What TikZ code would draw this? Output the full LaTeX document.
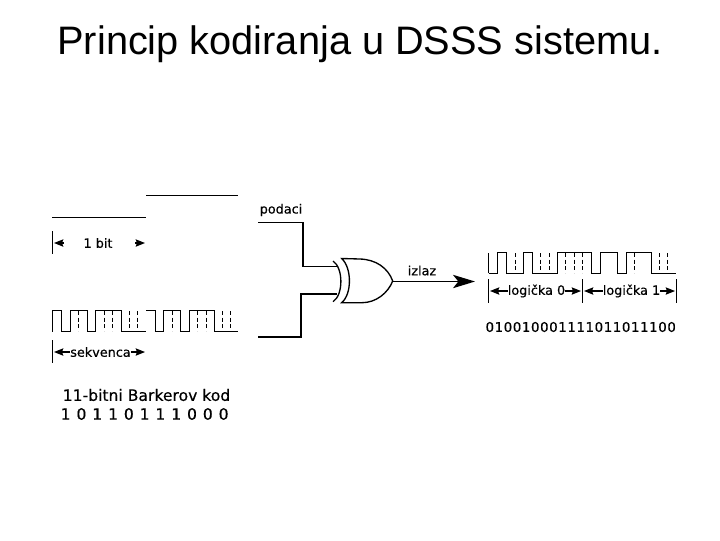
\documentclass[tikz,border=0pt]{standalone}
\usepackage{fontspec}
\setmainfont{Liberation Sans}
\newfontfamily\lbl[FakeBold=0.4]{DejaVu Sans}
\usetikzlibrary{arrows.meta}
\newcommand\dgA[1]{\makebox[11.85pt]{#1}}
\newcommand\dgB[1]{\makebox[6.82pt]{#1}}
\tikzset{
  wire/.style={line width=1pt,black},
  wave/.style={line width=0.75pt,black},
  chip/.style={line width=0.75pt,black,dash pattern=on 3pt off 2pt},
  tickmark/.style={line width=0.75pt,black},
  headarrow/.style={line width=0.9pt,black,-{Stealth[length=7pt,width=5.5pt,inset=1pt]}},
  bigarrow/.style={line width=1pt,black,-{Stealth[length=16.5pt,width=10pt,inset=4pt]}},
  lab/.style={font=\lbl\fontsize{9.6}{12}\selectfont,text=black,inner sep=0pt},
  biglab/.style={font=\lbl\fontsize{11.7}{14}\selectfont,text=black,inner sep=0pt},
}
\begin{document}
\begin{tikzpicture}[x=0.75pt,y=-0.75pt]
\useasboundingbox (0,0) rectangle (720,540);
\fill[white] (0,0) rectangle (720,540);
\node[font=\fontsize{29.8}{34}\selectfont,inner sep=0pt] (title) at (360,44) {Princip kodiranja u DSSS sistemu.};
% data signal
\draw[wave] (52,217) -- (146,217);
\draw[wave] (146,195) -- (238,195);
\coordinate (bt) at (52,231); \coordinate (bb) at (52,254);
\draw[tickmark] (bt) -- (bb);
\node[lab] (bit) at (98,243) {1 bit};
\coordinate (bla) at (64,243); \coordinate (blb) at (54,243);
\coordinate (bra) at (135,243); \coordinate (brb) at (145,243);
\draw[headarrow] (bla) -- (blb);
\draw[headarrow] (bra) -- (brb);
% Barker sequence
\draw[wave] (52,331.5) -- (52,310.5) -- (61.5,310.5) -- (61.5,331.5) -- (70,331.5) -- (70,310.5) -- (87,310.5) -- (87,331.5) -- (95.5,331.5) -- (95.5,310.5) -- (121,310.5) -- (121,331.5) -- (146,331.5);
\draw[wave] (146,310.5) -- (155,310.5) -- (155,331.5) -- (163.5,331.5) -- (163.5,310.5) -- (180.5,310.5) -- (180.5,331.5) -- (189,331.5) -- (189,310.5) -- (214.5,310.5) -- (214.5,331.5) -- (238,331.5);
\foreach \x in {78.5,104,112.5,129.5,137.5,172,197.5,206,222.5,230.5}
  \draw[chip] (\x,311) -- (\x,331);
\coordinate (st) at (52,340); \coordinate (sb) at (52,363);
\draw[tickmark] (st) -- (sb);
\node[lab] (sek) at (100.5,352) {sekvenca};
\draw[headarrow] (sek.west) -- (54,352);
\draw[headarrow] (sek.east) -- (145,352);
\node[biglab] (kodnaziv) at (146.5,395) {11-bitni Barkerov kod};
\node[biglab,anchor=west] (kod) at (57.5,414) {\dgA1\dgA0\dgA1\dgA1\dgA0\dgA1\dgA1\dgA1\dgA0\dgA0\dgA0};
% input wires and gate
\coordinate (gA) at (337,266.7);
\coordinate (gB) at (337,294);
\coordinate (inA) at (258,222.7);
\coordinate (inB) at (258,337);
\draw[wire] (inA) -- (303,222.7) -- (303,266.7) -- (gA);
\draw[wire] (inB) -- (301,337) -- (301,294) -- (gB);
\node[lab] (podaci) at (281,210) {podaci};
\draw[wire] (333,261) .. controls (343.5,268) and (343.5,295) .. (333,301.7);
\draw[wire] (341.7,258.5) .. controls (352,268) and (352,294) .. (341.7,302.7)
   -- (362,302.7) .. controls (376,302.7) and (388,293) .. (392.7,281)
   .. controls (388,268) and (376,259.5) .. (360,259) -- cycle;
\coordinate (out) at (392.7,281.5);
\coordinate (outend) at (475,281.5);
\draw[bigarrow] (out) -- (outend);
\node[lab] (izlaz) at (422,270.5) {izlaz};
% output signal
\draw[wave] (488.7,273) -- (488.7,252.5);
\draw[wave] (488.7,273) -- (497.5,273) -- (497.5,252.5) -- (506.3,252.5) -- (506.3,273) -- (523.7,273) -- (523.7,252.5) -- (532.3,252.5) -- (532.3,273) -- (557.7,273) -- (557.7,252.5) -- (591.5,252.5) -- (591.5,273) -- (600,273) -- (600,252.5) -- (617.5,252.5) -- (617.5,273) -- (626,273) -- (626,252.5) -- (651,252.5) -- (651,273) -- (676,273);
\foreach \x in {515,540.5,549,565.7,574,582.3,634,659.7,667.7}
  \draw[chip] (\x,253) -- (\x,273);
\coordinate (t1a) at (488,279); \coordinate (t1b) at (488,302.7);
\coordinate (t2a) at (582,279); \coordinate (t2b) at (582,302.7);
\coordinate (t3a) at (676,279); \coordinate (t3b) at (676,302.7);
\draw[tickmark] (t1a) -- (t1b);
\draw[tickmark] (t2a) -- (t2b);
\draw[tickmark] (t3a) -- (t3b);
\node[lab] (log0) at (536.5,291) {logička 0};
\node[lab] (log1) at (631.5,291) {logička 1};
\draw[headarrow] (log0.west) -- (490,291);
\draw[headarrow] (log0.east) -- (581,291);
\draw[headarrow] (log1.west) -- (584,291);
\draw[headarrow] (log1.east) -- (675,291);
\node[font=\lbl\fontsize{10}{12}\selectfont,inner sep=0pt,anchor=west] (bits) at (485,327) {\dgB0\dgB1\dgB0\dgB0\dgB1\dgB0\dgB0\dgB0\dgB1\dgB1\dgB1\dgB1\dgB0\dgB1\dgB1\dgB0\dgB1\dgB1\dgB1\dgB0\dgB0};
\end{tikzpicture}
\end{document}
